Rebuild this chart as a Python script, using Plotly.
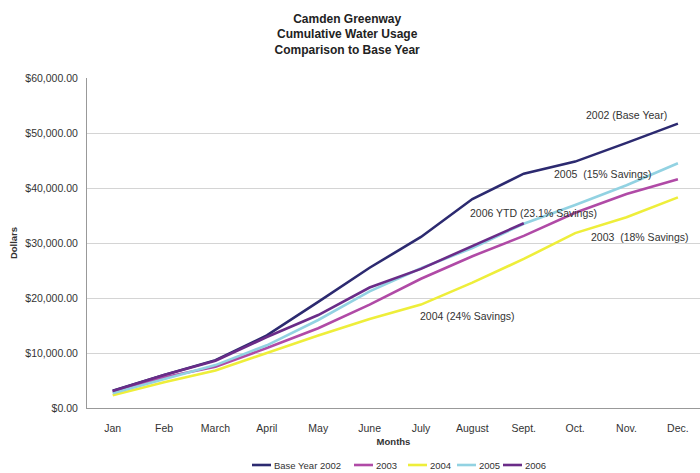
import plotly.graph_objects as go

months = ["Jan", "Feb", "March", "April", "May", "June", "July", "August", "Sept.", "Oct.", "Nov.", "Dec."]
base_2002 = [3150, 6000, 8700, 13200, 19300, 25500, 31100, 38000, 42600, 44800, 48200, 51700]
y2003 = [2900, 5600, 7500, 10900, 14500, 18800, 23500, 27600, 31300, 35500, 38900, 41600]
y2004 = [2300, 4700, 6800, 10000, 13200, 16200, 18800, 22800, 27100, 31800, 34700, 38300]
y2005 = [2700, 5300, 7800, 11400, 16000, 21200, 25400, 29100, 33500, 36900, 40500, 44500]
y2006 = [3100, 6000, 8600, 12900, 16900, 21900, 25300, 29400, 33600]

series_names = ["Base Year 2002", "2003", "2004", "2005", "2006"]
series_values = [base_2002, y2003, y2004, y2005, y2006]
series_colors = ["#2c2a70", "#b04aa6", "#eeee3a", "#92d2e2", "#6a2c88"]

labels = ["2002 (Base Year)", "2005  (15% Savings)", "2006 YTD (23.1% Savings)", "2003  (18% Savings)", "2004 (24% Savings)"]
label_x = [10.0, 9.53, 8.18, 10.26, 6.91]
label_y = [53300, 42500, 35450, 31100, 16700]

FONT = "Liberation Sans, Arial, sans-serif"
TXT = "#333333"

# plot area in pixels (used to place the hand-built legend below the axis)
PL, PR, PT, PB = 87, 700, 78, 408
def px_x(p):
    return (p - PL) / (PR - PL)
def px_y(p):
    return (PB - p) / (PB - PT)

legend_starts = [252, 354, 408, 457, 503]
legend_y = 465
swatch_len = 19

fig = go.Figure()
for name, vals, color in zip(series_names, series_values, series_colors):
    fig.add_trace(go.Scatter(x=months[:len(vals)], y=vals, name=name, mode="lines",
                             line=dict(color=color, width=2.6), showlegend=False))

for t, lx, ly in zip(labels, label_x, label_y):
    fig.add_annotation(x=lx, y=ly, xref="x", yref="y", text=t, showarrow=False,
                       font=dict(family=FONT, size=10.5, color=TXT))

# legend (swatch + name) under the chart
for name, color, sx in zip(series_names, series_colors, legend_starts):
    fig.add_shape(type="line", xref="paper", yref="paper",
                  x0=px_x(sx), x1=px_x(sx + swatch_len), y0=px_y(legend_y), y1=px_y(legend_y),
                  line=dict(color=color, width=2.6))
    fig.add_annotation(x=px_x(sx + swatch_len + 1), y=px_y(legend_y), xref="paper", yref="paper",
                       text=name, showarrow=False, xanchor="left", yanchor="middle",
                       font=dict(family=FONT, size=9.5, color=TXT))

fig.update_layout(
    width=700, height=473,
    margin=dict(l=PL, r=700 - PR, t=PT, b=473 - PB, autoexpand=False),
    paper_bgcolor="white", plot_bgcolor="white",
    font=dict(family=FONT, size=10.5, color=TXT),
    showlegend=False,
    title=dict(text="<b>Camden Greenway<br>Cumulative Water Usage<br>Comparison to Base Year</b>",
               x=0.496, xanchor="center", y=0.952, yanchor="top",
               font=dict(family=FONT, size=12, color="#222222")),
    xaxis=dict(range=[-0.5, 11.43], showgrid=False, showline=True, linecolor="#999999", linewidth=1,
               ticks="", tickfont=dict(size=10.5), ticklabelstandoff=10, automargin=False,
               title=dict(text="<b>Months</b>", font=dict(size=9.5), standoff=5)),
    yaxis=dict(range=[0, 60000], dtick=10000, tickprefix="$", tickformat=",.2f",
               showgrid=True, gridcolor="#d4d4d4", gridwidth=1,
               showline=True, linecolor="#999999", linewidth=1, ticks="", zeroline=False,
               tickfont=dict(size=10.5), ticklabelstandoff=6, automargin=False,
               title=dict(text="<b>Dollars</b>", font=dict(size=9.5), standoff=6)),
)

fig.write_html("out.html")
